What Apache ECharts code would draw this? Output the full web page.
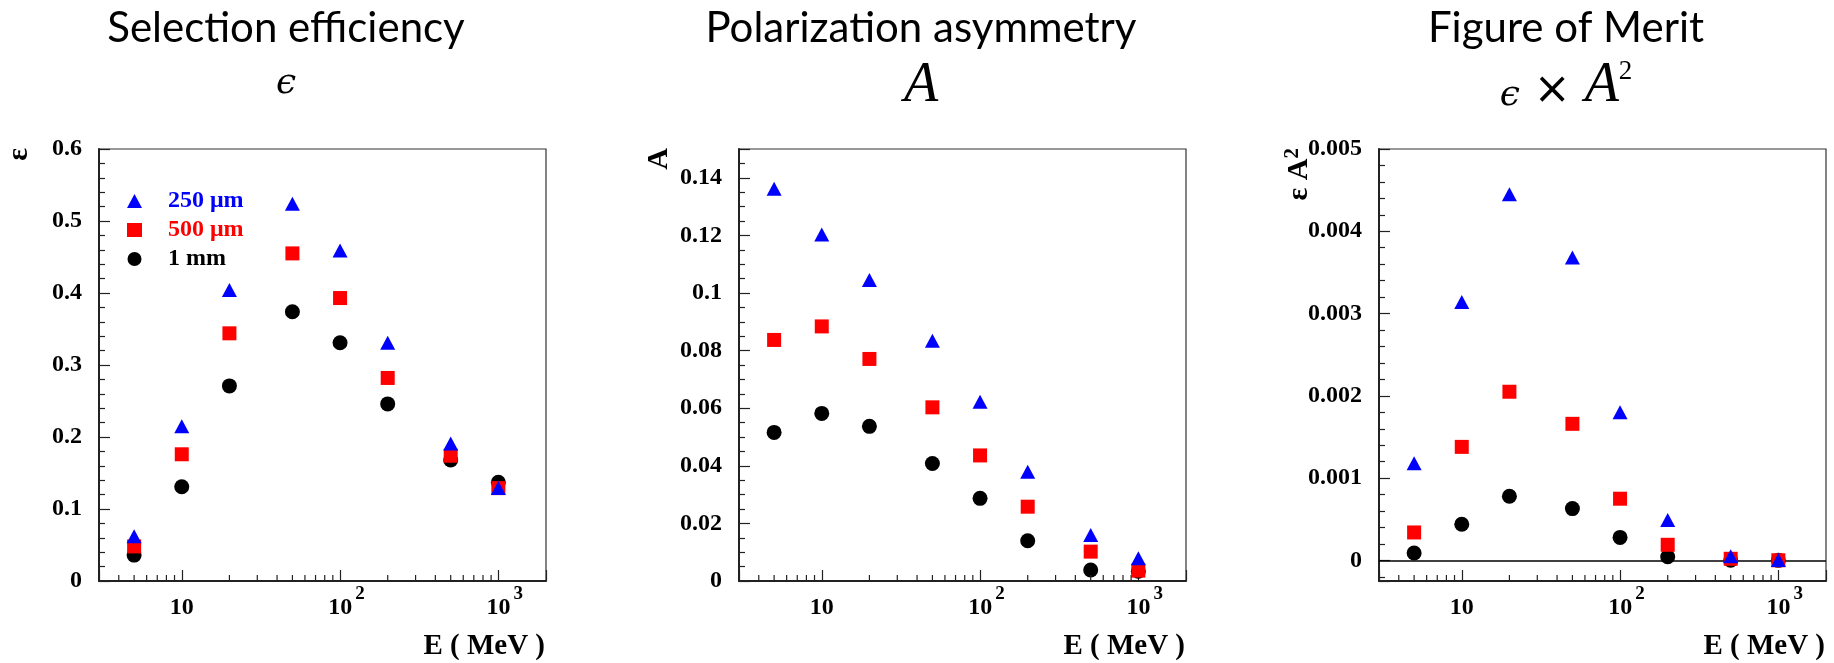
<!DOCTYPE html>
<html><head><meta charset="utf-8">
<script src="https://cdn.jsdelivr.net/npm/echarts@6/dist/echarts.min.js"></script>
<style>html,body{margin:0;padding:0;background:#fff}#c{width:1834px;height:663px}</style>
</head><body><div id="c"></div>
<script>
// ---------------- data ----------------
const energies = [5, 10, 20, 50, 100, 200, 500, 1000];           // E (MeV)
const seriesNames = ['250 μm', '500 μm', '1 mm'];

const eff250 = [0.062, 0.215, 0.404, 0.524, 0.459, 0.331, 0.191, 0.129];
const eff500 = [0.048, 0.176, 0.344, 0.455, 0.393, 0.282, 0.174, 0.129];
const eff1mm = [0.036, 0.131, 0.271, 0.374, 0.331, 0.246, 0.168, 0.137];

const asym250 = [0.1362, 0.1203, 0.1045, 0.0834, 0.0622, 0.0379, 0.0160, 0.0079];
const asym500 = [0.0837, 0.0884, 0.0771, 0.0603, 0.0436, 0.0258, 0.0102, 0.0036];
const asym1mm = [0.0516, 0.0582, 0.0537, 0.0408, 0.0287, 0.0140, 0.0038, 0.0034];

const fom250 = [0.00118, 0.00314, 0.00445, 0.00368, 0.00180, 0.00049, 0.00005, 0.000005];
const fom500 = [0.00034, 0.00138, 0.00205, 0.00166, 0.00075, 0.00019, 0.00002, 0.000002];
const fom1mm = [0.00009, 0.00044, 0.00078, 0.00063, 0.00028, 0.000045, 0.000003, 0.000001];

const xMinorTicks = [4, 5, 6, 7, 8, 9, 20, 30, 40, 50, 60, 70, 80, 90, 200, 300, 400, 500, 600, 700, 800, 900];
const panelTitles = ['Selection efficiency', 'Polarization asymmetry', 'Figure of Merit'];
const panelSubtitles = ['{e|ϵ}', '{a|A}', '{e|ϵ}{x|×}{a|A}{s|2}'];
const yNames = ['{t|ε}', '{t|A}', '{t|ε A}{s|2}'];
const xName = 'E ( MeV )';

// ---------------- styling / layout ----------------
const SERIF = 'Liberation Serif';
const colors = ['#0000ff', '#ff0000', '#000000'];
const symbols = ['triangle', 'rect', 'circle'];
const symbolSizes = [[15, 14], 14, 15];
const gridLefts = [99, 739, 1379];
const gridTop = 149, gridW = 447, gridH = 432;
const titleCenters = [286, 921, 1566];
const yRanges = [
  {min: 0, max: 0.6, interval: 0.1, minor: 5},
  {min: 0, max: 0.15, interval: 0.02, minor: 4},
  {min: -0.00025, max: 0.005, splitNumber: 5, minor: 5}
];
const panelData = [
  [eff250, eff500, eff1mm],
  [asym250, asym500, asym1mm],
  [fom250, fom500, fom1mm]
];

const grids = [], xAxes = [], yAxes = [], series = [], titles = [], graphics = [];

function xLabel(v) {
  const l = Math.log10(v), e = Math.round(l);
  if (Math.abs(l - e) > 1e-6) return '';
  if (e === 1) return '{b|10}';
  return '{bp|10}{s|' + e + '}';
}

for (let p = 0; p < 3; p++) {
  grids.push({left: gridLefts[p], top: gridTop, width: gridW, height: gridH,
    show: true, borderColor: '#333', borderWidth: 1.2, backgroundColor: '#fff'});
  xAxes.push({
    type: 'log', gridIndex: p, min: 3, max: 2000, logBase: 10,
    axisLine: {show: true, onZero: false, lineStyle: {color: '#222', width: 2}},
    axisTick: {show: true, inside: true, length: 11, lineStyle: {color: '#222', width: 1.2}},
    splitLine: {show: false},
    axisLabel: {
      formatter: xLabel, margin: 4,
      rich: {
        b: {fontFamily: SERIF, fontWeight: 'bold', fontSize: 24, lineHeight: 46, color: '#000'},
        bp: {fontFamily: SERIF, fontWeight: 'bold', fontSize: 24, lineHeight: 46, color: '#000', padding: [0, 0, 0, 13]},
        s: {fontFamily: SERIF, fontWeight: 'bold', fontSize: 19, lineHeight: 20, verticalAlign: 'top', color: '#000', padding: [0, 0, 0, 3]}
      }
    }
  });
  const yr = yRanges[p];
  const ya = {
    type: 'value', gridIndex: p, min: yr.min, max: yr.max,
    axisLine: {show: true, onZero: false, lineStyle: {color: '#222', width: 2}},
    axisTick: {show: true, inside: true, length: 11, lineStyle: {color: '#222', width: 1.2}},
    minorTick: {show: true, splitNumber: yr.minor, length: 6, lineStyle: {color: '#222', width: 1.2}},
    splitLine: {show: false},
    axisLabel: {fontFamily: SERIF, fontWeight: 'bold', fontSize: 24, color: '#000', margin: 17,
      showMaxLabel: p !== 1, showMinLabel: p !== 2}
  };
  if (yr.interval) ya.interval = yr.interval; else ya.splitNumber = yr.splitNumber;
  yAxes.push(ya);

  // data series: draw black first, then red, blue on top
  for (let k = 2; k >= 0; k--) {
    const s = {
      type: 'scatter', name: seriesNames[k], xAxisIndex: p, yAxisIndex: p,
      symbol: symbols[k], symbolSize: symbolSizes[k],
      itemStyle: {color: colors[k], opacity: 1},
      data: energies.map((e, i) => [e, panelData[p][k][i]]),
      z: 5 - k
    };
    if (p === 2 && k === 2) {
      s.markLine = {silent: true, symbol: 'none', label: {show: false},
        lineStyle: {color: '#000', width: 1.5, type: 'solid'}, data: [{yAxis: 0}], z: 1};
    }
    series.push(s);
  }
  // minor ticks of the log x axis
  series.push({
    type: 'custom', xAxisIndex: p, yAxisIndex: p, silent: true, z: 10,
    data: xMinorTicks.map(v => [v, yr.min]),
    renderItem: function (params, api) {
      const cs = params.coordSys;
      const x = api.coord([api.value(0), api.value(1)])[0];
      const yb = cs.y + cs.height;
      return {type: 'line', shape: {x1: x, y1: yb, x2: x, y2: yb - 6},
        style: {stroke: '#222', lineWidth: 1.2}};
    }
  });

  titles.push({
    left: titleCenters[p], top: 7, textAlign: 'center', padding: 0, itemGap: 9,
    text: panelTitles[p], subtext: panelSubtitles[p],
    textStyle: {fontFamily: 'Lato', fontWeight: 'normal', fontSize: 42, lineHeight: 42, color: '#000'},
    subtextStyle: {
      color: '#000', lineHeight: 56,
      rich: {
        e: {fontFamily: 'DejaVu Serif', fontStyle: 'italic', fontSize: 36, lineHeight: 44, verticalAlign: 'bottom', color: '#000'},
        x: {fontFamily: 'DejaVu Sans', fontSize: 44, lineHeight: 50, verticalAlign: 'bottom', color: '#000', padding: [0, 14, 0, 14]},
        a: {fontFamily: SERIF, fontStyle: 'italic', fontSize: 56, lineHeight: 56, verticalAlign: 'bottom', color: '#000'},
        s: {fontFamily: SERIF, fontSize: 27, lineHeight: 40, verticalAlign: 'top', color: '#000'}
      }
    }
  });

  graphics.push({
    type: 'text', x: gridLefts[p] - 80, y: 148, rotation: Math.PI / 2,
    style: {
      text: yNames[p], align: 'right', verticalAlign: 'middle',
      rich: {
        t: {fontFamily: SERIF, fontWeight: 'bold', fontSize: 30, lineHeight: 34, fill: '#000'},
        s: {fontFamily: SERIF, fontWeight: 'bold', fontSize: 21, lineHeight: 20, verticalAlign: 'top', fill: '#000'}
      }
    }
  });
  graphics.push({
    type: 'text', x: gridLefts[p] + gridW - 1, y: 647,
    style: {text: xName, align: 'right', verticalAlign: 'middle',
      font: 'bold 29px "' + SERIF + '"', fill: '#000'}
  });
}

const chart = echarts.init(document.getElementById('c'), null, {renderer: 'canvas'});
chart.setOption({
  animation: false,
  backgroundColor: '#fff',
  title: titles,
  grid: grids,
  xAxis: xAxes,
  yAxis: yAxes,
  legend: {
    data: [
      {name: seriesNames[0], textStyle: {color: colors[0]}},
      {name: seriesNames[1], textStyle: {color: colors[1]}},
      {name: seriesNames[2], textStyle: {color: colors[2]}}
    ],
    orient: 'vertical', left: 127, top: 189, padding: 0,
    itemWidth: 15, itemHeight: 14, itemGap: 5, selectedMode: false,
    textStyle: {fontFamily: SERIF, fontWeight: 'bold', fontSize: 24, lineHeight: 22, padding: [0, 0, 0, 21]}
  },
  graphic: graphics,
  series: series
});
</script>
</body></html>
